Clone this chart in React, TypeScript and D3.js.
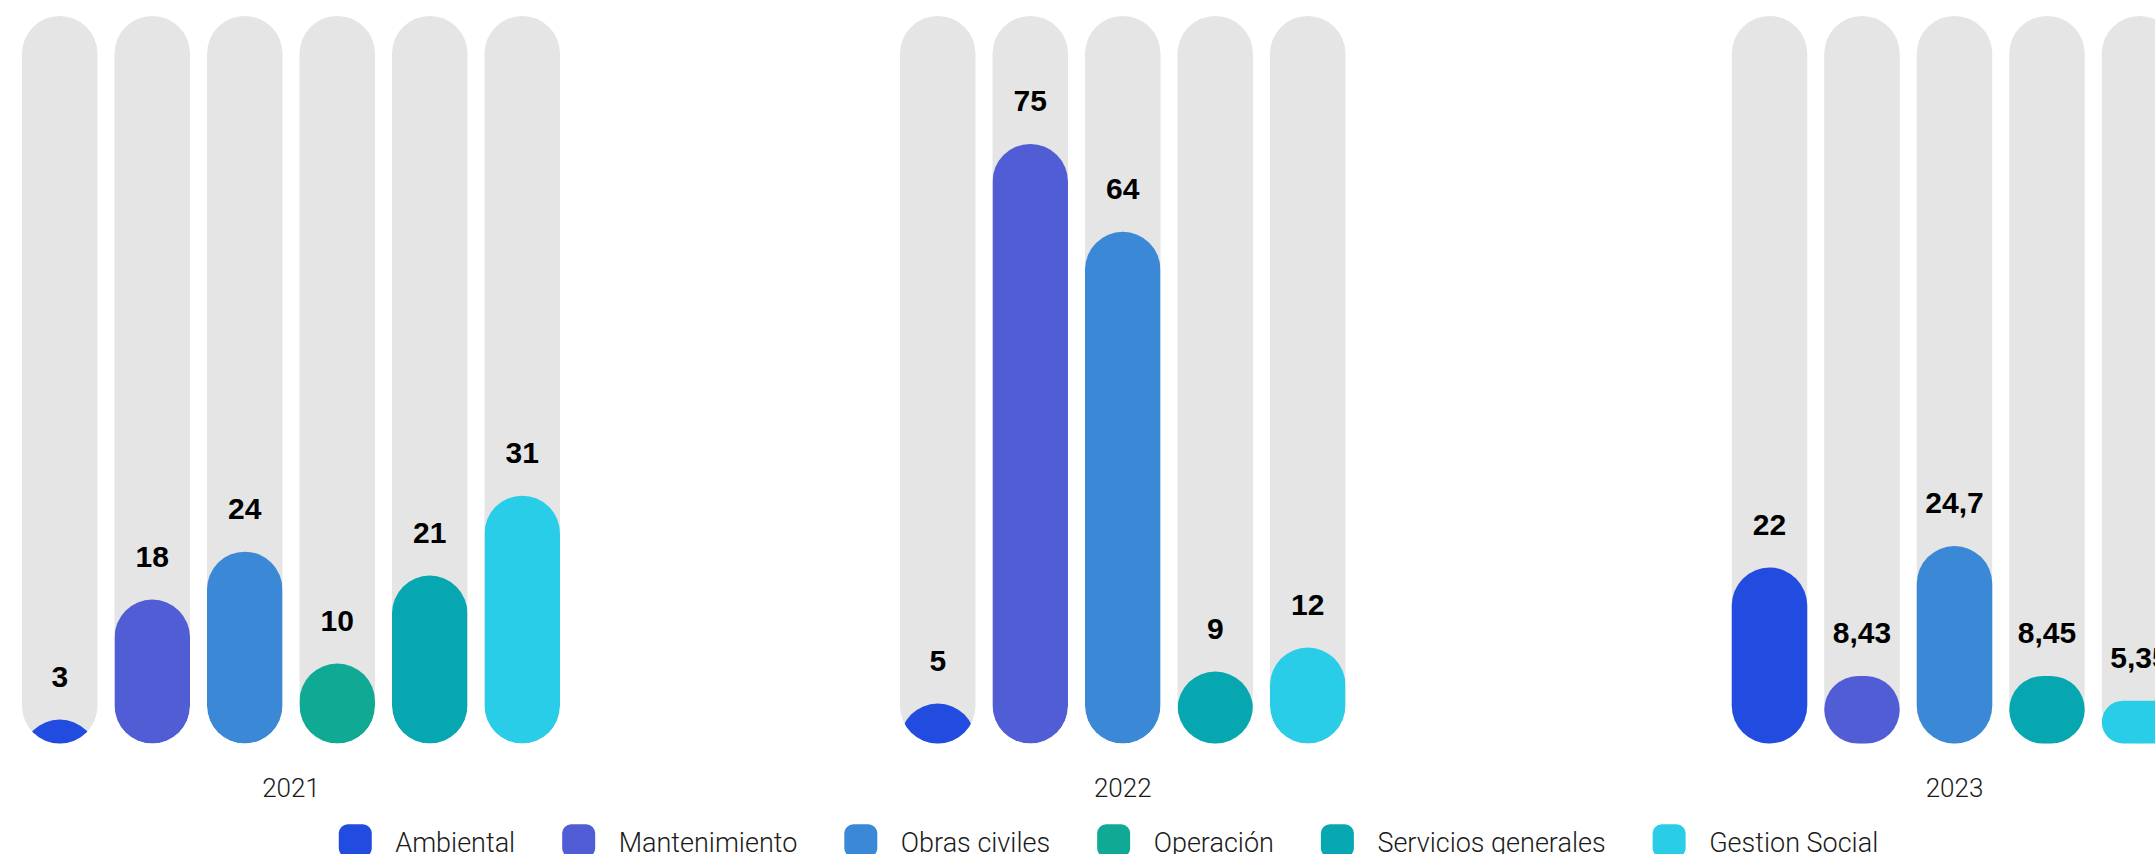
import React, { useEffect, useRef } from "react";
import * as d3 from "d3";

// ---- data ----
const years = ["2021", "2022", "2023"];
const categories = [
  "Ambiental",
  "Mantenimiento",
  "Obras civiles",
  "Operación",
  "Servicios generales",
  "Gestion Social",
];
const colors = ["#224BDF", "#505DD4", "#3A88D6", "#10AA94", "#06A7B0", "#2ACDE8"];
const values2021: (number | null)[] = [3, 18, 24, 10, 21, 31];
const values2022: (number | null)[] = [5, 75, 64, null, 9, 12];
const values2023: (number | null)[] = [22, 8.43, 24.7, null, 8.45, 5.35];
const yMax = 91;

// ---- layout ----
const W = 2155;
const H = 854;
const TOP = 16;
const BOTTOM = 743.5;
const STEP = 92.5;
const BAR_W = 75.5;
const PAD = (STEP - BAR_W) / STEP;

const locale = d3.formatLocale({
  decimal: ",",
  thousands: ".",
  grouping: [3],
  currency: ["", "€"],
});
const fmt = locale.format("~g");

export default function App() {
  const ref = useRef<SVGSVGElement>(null);

  useEffect(() => {
    const svg = d3.select(ref.current);
    svg.selectAll("*").remove();
    const defs = svg.append("defs");
    const seriesByYear = [values2021, values2022, values2023];

    const x0 = d3.scalePoint<string>().domain(years).range([291, 1954.5]);
    const y = d3.scaleLinear().domain([0, yMax]).range([BOTTOM, TOP]);

    years.forEach((yr, gi) => {
      const vals = seriesByYear[gi];
      const present = categories
        .map((c, i) => ({ c, i, v: vals[i] }))
        .filter((d) => d.v != null) as { c: string; i: number; v: number }[];
      const n = present.length;
      const x1 = d3
        .scaleBand<number>()
        .domain(present.map((d) => d.i))
        .range([(-n * STEP) / 2, (n * STEP) / 2])
        .paddingInner(PAD)
        .paddingOuter(PAD / 2);
      const bw = x1.bandwidth();
      const r = bw / 2;
      const clipped = gi < 2;
      const g = svg.append("g").attr("transform", `translate(${x0(yr)},0)`);

      present.forEach((d) => {
        const bx = x1(d.i)!;
        const id = `clip-${gi}-${d.i}`;
        defs
          .append("clipPath")
          .attr("id", id)
          .append("rect")
          .attr("x", bx)
          .attr("y", y(yMax))
          .attr("width", bw)
          .attr("height", y(0) - y(yMax))
          .attr("rx", r)
          .attr("ry", r);

        g.append("rect")
          .attr("x", bx)
          .attr("y", y(yMax))
          .attr("width", bw)
          .attr("height", y(0) - y(yMax))
          .attr("rx", r)
          .attr("ry", r)
          .attr("fill", "#E5E5E5");

        const top = y(d.v);
        const h = y(0) - top;
        if (clipped) {
          g.append("rect")
            .attr("x", bx)
            .attr("y", top)
            .attr("width", bw)
            .attr("height", Math.max(h, bw))
            .attr("rx", r)
            .attr("ry", r)
            .attr("clip-path", `url(#${id})`)
            .attr("fill", colors[d.i]);
        } else {
          const rr = Math.min(r, h / 2);
          g.append("rect")
            .attr("x", bx)
            .attr("y", top)
            .attr("width", bw)
            .attr("height", h)
            .attr("rx", rr)
            .attr("ry", rr)
            .attr("fill", colors[d.i]);
        }

        g.append("text")
          .attr("x", bx + bw / 2)
          .attr("y", top - 33)
          .attr("text-anchor", "middle")
          .attr("font-family", "'Liberation Sans', Arial, sans-serif")
          .attr("font-weight", 700)
          .attr("font-size", 30)
          .attr("fill", "#000")
          .text(fmt(d.v));
      });

      g.append("text")
        .attr("x", 0)
        .attr("y", 796.7)
        .attr("text-anchor", "middle")
        .attr("font-family", "Roboto, 'Liberation Sans', sans-serif")
        .attr("font-weight", 300)
        .attr("font-size", 26)
        .attr("fill", "#1a1a1a")
        .text(yr);
    });

    // legend
    const lg = svg.append("g");
    const items = categories.map((c, i) => {
      const it = lg.append("g");
      it.append("rect")
        .attr("x", 0)
        .attr("y", 824.3)
        .attr("width", 33)
        .attr("height", 33)
        .attr("rx", 9)
        .attr("ry", 9)
        .attr("fill", colors[i]);
      const t = it
        .append("text")
        .attr("x", 56.5)
        .attr("y", 852)
        .attr("font-family", "Roboto, 'Liberation Sans', sans-serif")
        .attr("font-weight", 300)
        .attr("font-size", 27)
        .attr("fill", "#1a1a1a")
        .text(c);
      const tw = (t.node() as SVGTextElement).getComputedTextLength();
      return { it, w: 56.5 + tw };
    });
    const gap = 47;
    const total = d3.sum(items, (d) => d.w) + gap * (items.length - 1);
    let cx = 1108.5 - total / 2;
    items.forEach((d) => {
      d.it.attr("transform", `translate(${cx},0)`);
      cx += d.w + gap;
    });
  }, []);

  return (
    <svg
      ref={ref}
      width={W}
      height={H}
      style={{ position: "fixed", left: 0, top: 0, background: "#fff" }}
    />
  );
}
